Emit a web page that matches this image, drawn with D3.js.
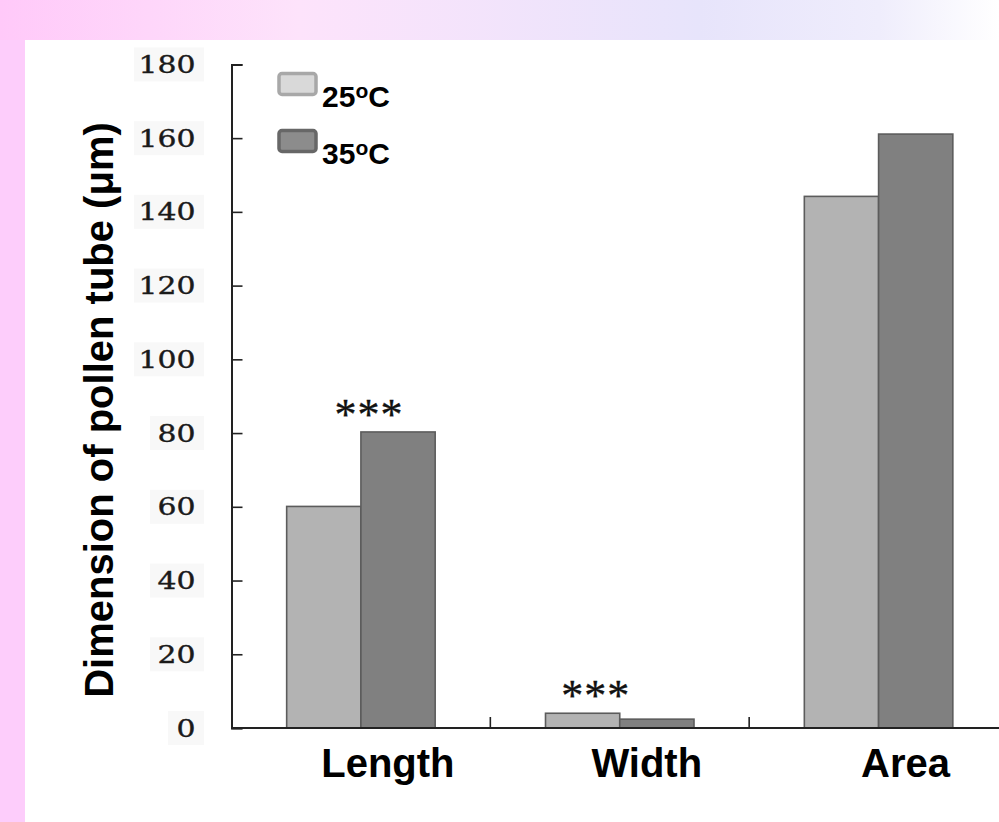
<!DOCTYPE html>
<html>
<head>
<meta charset="utf-8">
<script src="https://cdn.jsdelivr.net/npm/d3@7"></script>
<style>
  body { margin: 0; background: #fff; }
  svg { display: block; }
</style>
</head>
<body>
<div id="vis"></div>
<script>
// data
const categories = ["Length", "Width", "Area"];
const series = ["25", "35"];
const values25 = [60.1, 4.0, 144.2];
const values35 = [80.3, 2.4, 161.1];
const yTicks = [0, 20, 40, 60, 80, 100, 120, 140, 160, 180];
const starred = [
  { category: "Length", series: "35" },
  { category: "Width", series: "25" }
];

const WIDTH = 999;
const HEIGHT = 822;

const SVG = d3.select("#vis").append("svg")
  .attr("width", WIDTH)
  .attr("height", HEIGHT);

// slide background: gradient band on top, pink strip on the left
const defs = SVG.append("defs");
const grad = defs.append("linearGradient").attr("id", "topBand");
grad.append("stop").attr("offset", "0%").attr("stop-color", "#ffc9f9");
grad.append("stop").attr("offset", "30%").attr("stop-color", "#fde3fb");
grad.append("stop").attr("offset", "70%").attr("stop-color", "#e7e4fb");
grad.append("stop").attr("offset", "88%").attr("stop-color", "#efedfc");
grad.append("stop").attr("offset", "100%").attr("stop-color", "#ffffff");

SVG.append("rect").attr("x", 0).attr("y", 0).attr("width", WIDTH).attr("height", 40)
  .attr("fill", "url(#topBand)");
SVG.append("rect").attr("x", 0).attr("y", 40).attr("width", 25).attr("height", HEIGHT - 40)
  .attr("fill", "#fdcdfb");

const MARGINS = { TOP: 64.4, LEFT: 231.5, BOTTOM: 728, RIGHT: 1008 };

const escalaY = d3.scaleLinear()
  .domain([0, 180])
  .range([MARGINS.BOTTOM, MARGINS.TOP]);

const escalaX = d3.scaleBand()
  .domain(categories)
  .range([MARGINS.LEFT, MARGINS.RIGHT]);

const escalaSerie = d3.scaleBand()
  .domain(series)
  .range([0, escalaX.bandwidth()])
  .paddingInner(0)
  .paddingOuter(0.743);

const colores = { "25": "#b3b3b3", "35": "#808080" };

const datos = [];
categories.forEach((c, i) => {
  datos.push({ category: c, series: "25", value: values25[i] });
  datos.push({ category: c, series: "35", value: values35[i] });
});

// faint grey boxes behind tick labels (as in the scanned figure)
SVG.append("g")
  .selectAll("rect")
  .data(yTicks)
  .join("rect")
  .attr("x", d => d >= 100 ? 134 : (d > 0 ? 150 : 168))
  .attr("y", d => escalaY(d) - 17)
  .attr("width", d => d >= 100 ? 70 : (d > 0 ? 54 : 36))
  .attr("height", 34)
  .attr("fill", "#f8f8f8");

// y axis
const ejeY = d3.axisLeft(escalaY)
  .tickValues(yTicks)
  .tickSizeInner(-11)
  .tickSizeOuter(-11)
  .tickPadding(36);

const contenedorEjeY = SVG.append("g")
  .attr("transform", `translate(${MARGINS.LEFT}, 0)`)
  .call(ejeY);

contenedorEjeY.select(".domain").attr("stroke", "#222").attr("stroke-width", 2);
contenedorEjeY.selectAll(".tick line").attr("stroke", "#222").attr("stroke-width", 1.6);
contenedorEjeY.selectAll(".tick text")
  .attr("font-family", "'DejaVu Serif', serif")
  .attr("font-size", 25)
  .attr("textLength", d => String(d).length * 19)
  .attr("lengthAdjust", "spacingAndGlyphs")
  .attr("fill", "#1a1a1a")
  .attr("stroke", "#1a1a1a")
  .attr("stroke-width", 0.4);

// bars
SVG.append("g")
  .selectAll("rect")
  .data(datos)
  .join("rect")
  .attr("x", d => escalaX(d.category) + escalaSerie(d.series))
  .attr("y", d => escalaY(d.value))
  .attr("width", escalaSerie.bandwidth())
  .attr("height", d => escalaY(0) - escalaY(d.value))
  .attr("fill", d => colores[d.series])
  .attr("stroke", "#5c5c5c")
  .attr("stroke-width", 1.6);

// x axis line and category separators
const contenedorEjeX = SVG.append("g");
contenedorEjeX.append("line")
  .attr("x1", MARGINS.LEFT).attr("x2", WIDTH)
  .attr("y1", escalaY(0)).attr("y2", escalaY(0))
  .attr("stroke", "#222").attr("stroke-width", 2);

contenedorEjeX.selectAll(".sep")
  .data(categories.slice(1))
  .join("line")
  .attr("class", "sep")
  .attr("x1", d => escalaX(d)).attr("x2", d => escalaX(d))
  .attr("y1", escalaY(0)).attr("y2", escalaY(0) - 11)
  .attr("stroke", "#222").attr("stroke-width", 1.6);

// category labels
contenedorEjeX.selectAll(".cat")
  .data(categories)
  .join("text")
  .attr("class", "cat")
  .attr("x", d => escalaX(d) + escalaX.bandwidth() / 2 + 27)
  .attr("y", 777)
  .attr("text-anchor", "middle")
  .attr("font-family", "'Liberation Sans', Arial, sans-serif")
  .attr("font-weight", "bold")
  .attr("font-size", 40)
  .attr("fill", "#000")
  .text(d => d);

// significance marks
SVG.append("g")
  .selectAll("text")
  .data(starred)
  .join("text")
  .attr("x", d => escalaX(d.category) + escalaSerie(d.series) + (d.series === "35" ? 8 : escalaSerie.bandwidth() / 2 + 13))
  .attr("y", d => escalaY(datos.find(e => e.category === d.category && e.series === d.series).value) - 3)
  .attr("text-anchor", "middle")
  .attr("font-family", "'Liberation Serif', 'Times New Roman', serif")
  .attr("font-size", 44)
  .attr("letter-spacing", 1)
  .attr("fill", "#111")
  .attr("stroke", "#111")
  .attr("stroke-width", 0.4)
  .text("***");

// y axis title
SVG.append("text")
  .attr("transform", "translate(113, 410) rotate(-90)")
  .attr("text-anchor", "middle")
  .attr("font-family", "'Liberation Sans', Arial, sans-serif")
  .attr("font-weight", "bold")
  .attr("font-size", 40)
  .attr("fill", "#000")
  .text("Dimension of pollen tube (\u03bcm)");

// legend
const leyenda = SVG.append("g");
const leyendaItems = [
  { series: "25", y: 72, fill: "#d9d9d9", stroke: "#a8a8a8" },
  { series: "35", y: 129, fill: "#8c8c8c", stroke: "#676767" }
];

leyenda.selectAll("rect")
  .data(leyendaItems)
  .join("rect")
  .attr("x", 279)
  .attr("y", d => d.y + 1.5)
  .attr("width", 37)
  .attr("height", 21)
  .attr("rx", 3)
  .attr("fill", d => d.fill)
  .attr("stroke", d => d.stroke)
  .attr("stroke-width", 3.5);

const textos = leyenda.selectAll("text")
  .data(leyendaItems)
  .join("text")
  .attr("x", 322)
  .attr("y", d => d.y + 35)
  .attr("font-family", "'Liberation Sans', Arial, sans-serif")
  .attr("font-weight", "bold")
  .attr("font-size", 30)
  .attr("fill", "#000");

textos.append("tspan").text(d => d.series);
textos.append("tspan").attr("font-size", 21).attr("dy", -9).text("o");
textos.append("tspan").attr("dy", 9).text("C");
</script>
</body>
</html>
